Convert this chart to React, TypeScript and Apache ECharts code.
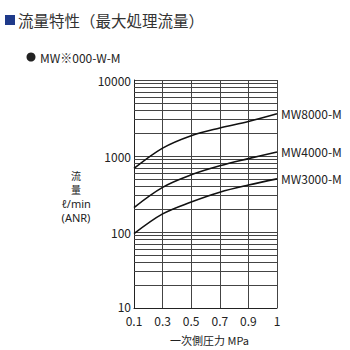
import React, { useEffect, useRef } from "react";
import * as echarts from "echarts";

const pressures = ["0.1", "0.3", "0.5", "0.7", "0.9", "1"];
const seriesNames = ["MW8000-M", "MW4000-M", "MW3000-M"];
const mw8000 = [685, 1270, 1850, 2340, 2850, 3600];
const mw4000 = [210, 387, 565, 743, 923, 1130];
const mw3000 = [95, 173, 248, 334, 415, 500];
const minorGrid = [2, 3, 4, 5, 6, 7, 8, 9, 20, 30, 40, 50, 60, 70, 80, 90, 200, 300, 400, 500, 600, 700, 800, 900, 2000, 3000, 4000, 5000, 6000, 7000, 8000, 9000];
const yNameLines = ["流", "量", "ℓ/min", "(ANR)"];

const FONT = "'Noto Sans CJK JP', 'Noto Sans', sans-serif";
const LATIN = "'Noto Sans', 'Noto Sans CJK JP', sans-serif";

export default function App() {
  const ref = useRef<HTMLDivElement>(null);
  useEffect(() => {
    if (!ref.current) return;
    const chart = echarts.init(ref.current, null, { renderer: "svg" });
    const lineStyle = { color: "#111", width: 1.6 };
    const mk = (name: string, data: number[], withGrid: boolean) => ({
      name,
      type: "line",
      data,
      smooth: 0.35,
      symbol: "none",
      lineStyle,
      z: 5,
      endLabel: {
        show: true,
        formatter: "{a}",
        color: "#222",
        fontSize: 12,
        fontFamily: FONT,
        distance: 4,
      },
      markLine: withGrid
        ? {
            silent: true,
            symbol: "none",
            label: { show: false },
            lineStyle: { color: "#444", width: 1, type: "solid" },
            data: minorGrid.map((v) => ({ yAxis: v })),
            z: 1,
          }
        : undefined,
    });
    chart.setOption({
      animation: false,
      textStyle: { fontFamily: FONT },
      grid: { left: 134, right: 73, top: 80, bottom: 37 },
      xAxis: {
        type: "category",
        data: pressures,
        boundaryGap: false,
        axisLine: { lineStyle: { color: "#222", width: 1 } },
        axisTick: { show: false },
        axisLabel: { color: "#222", fontSize: 12, margin: 6, fontFamily: FONT },
        splitLine: { show: true, lineStyle: { color: "#444", width: 1 } },
        name: "一次側圧力 MPa",
        nameLocation: "middle",
        nameGap: 26,
        nameTextStyle: { color: "#222", fontSize: 11, fontFamily: FONT, padding: [0, 0, 0, 8] },
      },
      yAxis: {
        type: "log",
        logBase: 10,
        min: 10,
        max: 10000,
        axisLine: { show: true, lineStyle: { color: "#222", width: 1 } },
        axisTick: { show: false },
        axisLabel: {
          color: "#222",
          fontSize: 12,
          margin: 3,
          fontFamily: FONT,
          formatter: (v: number) => (Math.round(v) === 10 ? "{lo|10}" : String(Math.round(v))),
          rich: {
            lo: { color: "#222", fontSize: 12, fontFamily: FONT, verticalAlign: "bottom", lineHeight: 12, padding: [0, 0, 2, 0] },
          },
        },
        splitLine: { show: true, lineStyle: { color: "#444", width: 1 } },
      },
      graphic: [
        { type: "rect", shape: { x: 5, y: 15, width: 10, height: 10 }, style: { fill: "#1f3a8a" } },
        {
          type: "text",
          x: 18,
          y: 20,
          style: { text: "流量特性（最大処理流量）", fill: "#333", fontSize: 15.5, fontFamily: FONT, textVerticalAlign: "middle" },
        },
        { type: "circle", shape: { cx: 31, cy: 57, r: 4.5 }, style: { fill: "#222" } },
        {
          type: "text",
          x: 40,
          y: 57,
          style: { text: "MW※000-W-M", fill: "#222", fontSize: 12, fontFamily: FONT, textVerticalAlign: "middle" },
        },
        ...yNameLines.map((t, i) => ({
          type: "text",
          x: 76,
          y: 175 + i * 14,
          style: {
            text: t,
            fill: "#222",
            fontSize: i < 2 ? 10 : 11,
            fontFamily: i < 2 ? FONT : LATIN,
            textAlign: "center",
            textVerticalAlign: "middle",
          },
        })),
      ],
      series: [mk(seriesNames[0], mw8000, true), mk(seriesNames[1], mw4000, false), mk(seriesNames[2], mw3000, false)],
    });
    return () => chart.dispose();
  }, []);
  return <div ref={ref} style={{ width: 350, height: 350, position: "absolute", left: 0, top: 0 }} />;
}
